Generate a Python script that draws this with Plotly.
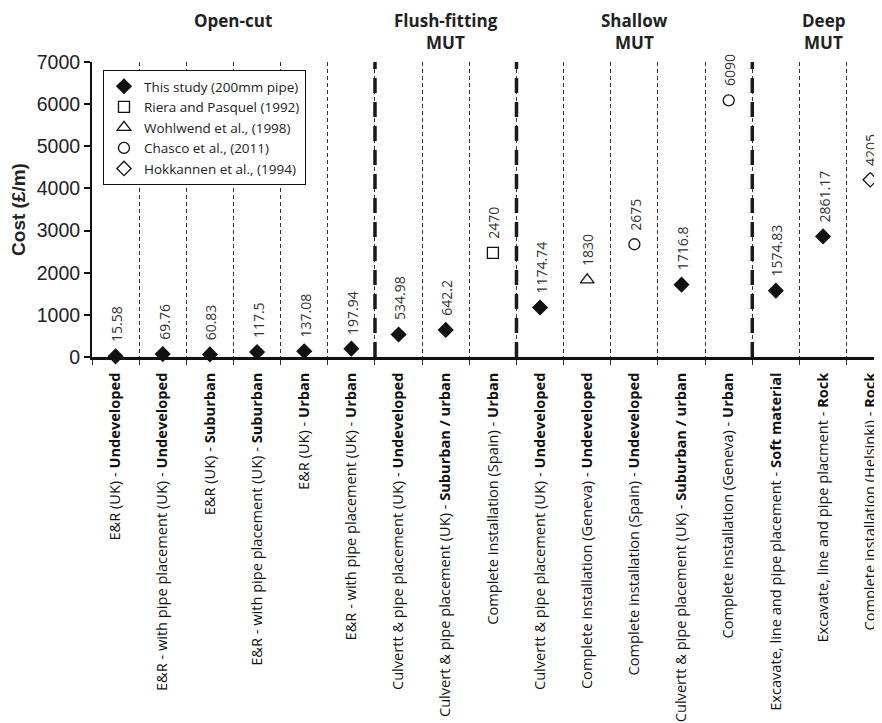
import plotly.graph_objects as go

categories = [
    "E&R (UK) - <b>Undeveloped</b>",
    "E&R - with pipe placement (UK) - <b>Undeveloped</b>",
    "E&R (UK) - <b>Suburban</b>",
    "E&R - with pipe placement (UK) - <b>Suburban</b>",
    "E&R (UK) - <b>Urban</b>",
    "E&R - with pipe placement (UK) - <b>Urban</b>",
    "Culvertt & pipe placement (UK) - <b>Undeveloped</b>",
    "Culvert & pipe placement (UK) - <b>Suburban / urban</b>",
    "Complete installation (Spain) - <b>Urban</b>",
    "Culvertt & pipe placement (UK) - <b>Undeveloped</b>",
    "Complete installation (Geneva) - <b>Undeveloped</b>",
    "Complete installation (Spain) - <b>Undeveloped</b>",
    "Culvertt & pipe placement (UK) - <b>Suburban / urban</b>",
    "Complete installation (Geneva) - <b>Urban</b>",
    "Excavate, line and pipe placement - <b>Soft material</b>",
    "Excavate, line and pipe placment - <b>Rock</b>",
    "Complete installation (Helsinki) - <b>Rock</b>",
]

this_study = [15.58, 69.76, 60.83, 117.5, 137.08, 197.94, 534.98, 642.2, None,
              1174.74, None, None, 1716.8, None, 1574.83, 2861.17, None]
riera_pasquel = [None, None, None, None, None, None, None, None, 2470,
                 None, None, None, None, None, None, None, None]
wohlwend = [None, None, None, None, None, None, None, None, None,
            None, 1830, None, None, None, None, None, None]
chasco = [None, None, None, None, None, None, None, None, None,
          None, None, 2675, None, 6090, None, None, None]
hokkannen = [None, None, None, None, None, None, None, None, None,
             None, None, None, None, None, None, None, 4205]

group_names = [["Open-cut"], ["Flush-fitting", "MUT"], ["Shallow", "MUT"], ["Deep", "MUT"]]
group_sizes = [6, 3, 5, 3]

y_ticks = [0, 1000, 2000, 3000, 4000, 5000, 6000, 7000]

series = [
    ("This study (200mm pipe)", this_study, "diamond", "#111111", 11),
    ("Riera and Pasquel (1992)", riera_pasquel, "square-open", "#111111", 11),
    ("Wohlwend et al., (1998)", wohlwend, "triangle-up-open", "#111111", 12),
    ("Chasco et al., (2011)", chasco, "circle-open", "#111111", 11),
    ("Hokkannen et al., (1994)", hokkannen, "diamond-open", "#111111", 11),
]

W, H = 874, 715
M_L, M_R, M_T, M_B = 84, 0, 54, 366
PLOT_H = H - M_T - M_B


def paper_y(px_from_top):
    return 1 + (M_T - px_from_top) / PLOT_H


idx = list(range(len(categories)))
fig = go.Figure()
annotations = []
label_font = dict(family="Open Sans", size=14, color="#333333")

for k, (name, vals, sym, col, size) in enumerate(series):
    xs = [i for i, v in zip(idx, vals) if v is not None]
    ys = [v for v in vals if v is not None]
    fig.add_trace(go.Scatter(
        x=xs, y=ys, mode="markers", name=name, legendgroup="g%d" % k,
        marker=dict(symbol=sym, size=size, color=col,
                    line=dict(color=col, width=1.3)),
        cliponaxis=False,
    ))
    for x, y in zip(xs, ys):
        annotations.append(dict(
            x=x, y=y, xref="x", yref="y", text=f"{y:g}", showarrow=False,
            textangle=-90, xanchor="center", yanchor="bottom", yshift=12,
            xshift=1, font=label_font,
        ))

# group headers and thick separators
shapes = []
start = 0
for gi, (glines, gsize) in enumerate(zip(group_names, group_sizes)):
    center = start + (gsize - 1) / 2
    for li, line in enumerate(glines):
        annotations.append(dict(
            x=center, y=paper_y(12 + 23 * li), xref="x", yref="paper",
            text="<b>%s</b>" % line, showarrow=False,
            xanchor="center", yanchor="middle",
            font=dict(family="Open Sans", size=17, color="#222222"),
        ))
    start += gsize
    if gi < len(group_sizes) - 1:
        b = start - 0.5
        shapes.append(dict(
            type="line", xref="x", yref="y", x0=b, x1=b,
            y0=y_ticks[0], y1=y_ticks[-1],
            line=dict(color="#1a1a1a", width=3.5, dash="15px,9px"),
            layer="above",
        ))

fig.update_layout(
    width=W, height=H,
    margin=dict(l=M_L, r=M_R, t=M_T, b=M_B),
    plot_bgcolor="white", paper_bgcolor="white",
    showlegend=True,
    legend=dict(
        x=0.0139, y=0.973, xanchor="left", yanchor="top",
        bgcolor="white", bordercolor="#111111", borderwidth=1,
        font=dict(family="Open Sans", size=13.5, color="#222222"),
        tracegroupgap=2, traceorder="normal",
    ),
    annotations=annotations,
    shapes=shapes,
    xaxis=dict(
        range=[-0.5, 16.25],
        tickmode="array", tickvals=idx, ticktext=categories,
        tickangle=-90, ticks="", showgrid=False, zeroline=False,
        showline=True, linecolor="#111111", linewidth=2.5,
        ticklabelstandoff=7,
        tickfont=dict(family="Open Sans", size=14.6, color="#111111"),
        minor=dict(tick0=0.5, dtick=1, ticks="outside", ticklen=5,
                   tickwidth=1, tickcolor="#333333",
                   showgrid=True, gridcolor="#333333", gridwidth=1.2,
                   griddash="4px,3px"),
    ),
    yaxis=dict(
        range=[y_ticks[0], y_ticks[-1]],
        tickmode="array", tickvals=y_ticks,
        ticks="outside", ticklen=6, tickwidth=1.5, tickcolor="#111111",
        showline=True, linecolor="#111111", linewidth=2,
        showgrid=False, zeroline=False,
        tickfont=dict(family="Liberation Sans", size=19.5, color="#222222"),
        title=dict(text="<b>Cost (£/m)</b>", standoff=8,
                   font=dict(family="Liberation Sans", size=19, color="#222222")),
    ),
)

fig.write_html("out.html")
